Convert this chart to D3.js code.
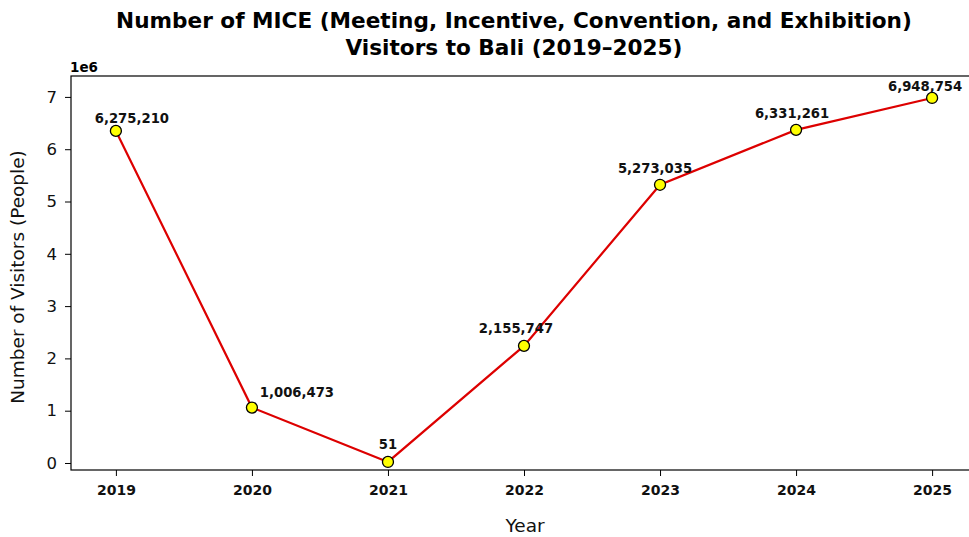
<!DOCTYPE html>
<html><head><meta charset="utf-8">
<script src="https://cdn.jsdelivr.net/npm/d3@7"></script>
<style>body{margin:0;background:#fff}svg{display:block}text{font-family:"DejaVu Sans",sans-serif}</style>
</head><body><svg id="c" width="969" height="537"></svg>
<script>
const years = [2019, 2020, 2021, 2022, 2023, 2024, 2025];
const visitors = [6350000, 1060000, 20000, 2240000, 5320000, 6370000, 6980000];
const labels = ["6,275,210", "1,006,473", "51", "2,155,747", "5,273,035", "6,331,261", "6,948,754"];
const yTicks = [0, 1, 2, 3, 4, 5, 6, 7];

const labelDx = [16, 45, 0, -8, -5, -4, -7];
const labelDy = [-8, -11, -13, -13, -12, -12, -7];

const svg = d3.select("#c");
const L = 71, R = 977, T = 76, B = 470;
const x = d3.scaleLinear().domain([2018.67, 2025.33]).range([L, R]);
const y = d3.scaleLinear().domain([-0.134e6, 7.4e6]).range([B, T]);

svg.append("rect").attr("x", L).attr("y", T).attr("width", R - L).attr("height", B - T)
  .attr("fill", "none").attr("stroke", "#000").attr("stroke-width", 1.2);

const xa = svg.append("g").attr("transform", `translate(0,${B})`)
  .call(d3.axisBottom(x).tickValues(years).tickFormat(d3.format("d")).tickSize(6).tickPadding(9));
xa.select(".domain").remove();
xa.selectAll("text").attr("font-size", 14).attr("font-weight", "bold").attr("fill", "#111");

const ya = svg.append("g").attr("transform", `translate(${L},0)`)
  .call(d3.axisLeft(y).tickValues(yTicks.map(v => v * 1e6)).tickFormat(d => d / 1e6).tickSize(6).tickPadding(8));
ya.select(".domain").remove();
ya.selectAll("text").attr("font-size", 16.5).attr("fill", "#111");

svg.append("text").attr("x", L - 1).attr("y", T - 4).attr("font-size", 13.5).attr("font-weight", "bold").text("1e6");

svg.append("path").datum(years.map((yr, i) => [yr, visitors[i]]))
  .attr("fill", "none").attr("stroke", "#dd0000").attr("stroke-width", 2.2)
  .attr("d", d3.line().x(d => x(d[0])).y(d => y(d[1])));

svg.selectAll("circle.pt").data(years).join("circle")
  .attr("cx", (d) => x(d)).attr("cy", (d, i) => y(visitors[i])).attr("r", 5.5)
  .attr("fill", "#ffff00").attr("stroke", "#000").attr("stroke-width", 1.3);

svg.selectAll("text.lbl").data(labels).join("text").attr("class", "lbl")
  .attr("x", (d, i) => x(years[i]) + labelDx[i]).attr("y", (d, i) => y(visitors[i]) + labelDy[i])
  .attr("text-anchor", "middle").attr("font-size", 13.2).attr("font-weight", "bold").attr("fill", "#111").text(d => d);

const title = svg.append("text").attr("text-anchor", "middle").attr("font-size", 21.6).attr("font-weight", "bold");
title.append("tspan").attr("x", 514).attr("y", 28).text("Number of MICE (Meeting, Incentive, Convention, and Exhibition)");
title.append("tspan").attr("x", 514).attr("y", 55).text("Visitors to Bali (2019\u20132025)");

svg.append("text").attr("x", 525).attr("y", 532).attr("text-anchor", "middle").attr("font-size", 18.5).attr("fill", "#111").text("Year");
svg.append("text").attr("transform", "translate(24,277) rotate(-90)").attr("text-anchor", "middle").attr("font-size", 18.5).attr("fill", "#111").text("Number of Visitors (People)");
</script></body></html>
